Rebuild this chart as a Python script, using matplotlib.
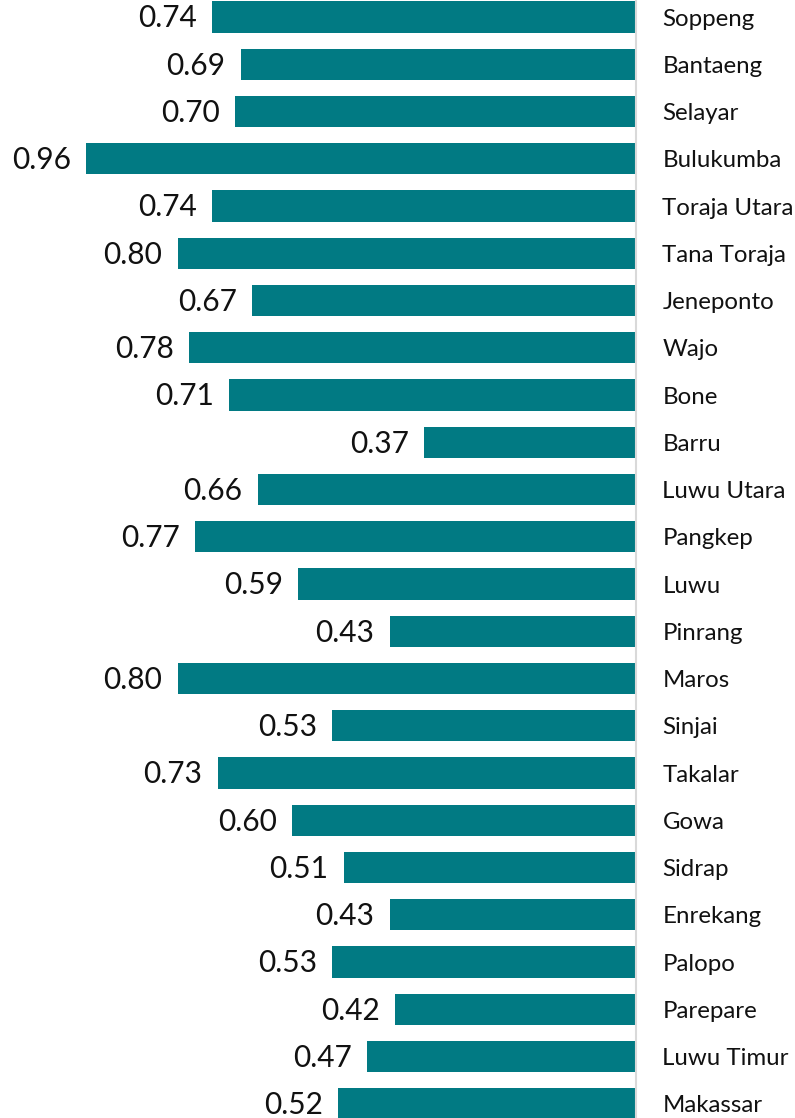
import matplotlib
matplotlib.use("Agg")
import matplotlib.pyplot as plt

regions = ["Soppeng", "Bantaeng", "Selayar", "Bulukumba", "Toraja Utara", "Tana Toraja",
           "Jeneponto", "Wajo", "Bone", "Barru", "Luwu Utara", "Pangkep", "Luwu",
           "Pinrang", "Maros", "Sinjai", "Takalar", "Gowa", "Sidrap", "Enrekang",
           "Palopo", "Parepare", "Luwu Timur", "Makassar"]
values = [0.74, 0.69, 0.70, 0.96, 0.74, 0.80, 0.67, 0.78, 0.71, 0.37, 0.66, 0.77, 0.59,
          0.43, 0.80, 0.53, 0.73, 0.60, 0.51, 0.43, 0.53, 0.42, 0.47, 0.52]

W, H = 795, 1118
fig = plt.figure(figsize=(W / 100, H / 100), dpi=100)
ax = fig.add_axes([0, 0, 636 / W, 1])

bar_color = "#017A83"
pos = list(range(len(regions)))
ax.barh(pos, values, height=0.66, color=bar_color)

ax.set_xlim(636 / 573, 0)
ax.set_ylim(23.3, -0.36)

for p, v, name in zip(pos, values, regions):
    ax.annotate(f"{v:.2f}", xy=(v, p), xytext=(-11, -1), textcoords="offset points",
                ha="right", va="center", fontsize=21.5, family="Lato", color="#111111")
    ax.annotate(name, xy=(0, p), xytext=(19, -1.5), textcoords="offset points",
                ha="left", va="center", fontsize=17.3, family="Lato", color="#111111",
                annotation_clip=False)

for s in ["top", "left", "bottom"]:
    ax.spines[s].set_visible(False)
ax.spines["right"].set_color("#d9d9d9")
ax.spines["right"].set_linewidth(1.5)
ax.set_xticks([])
ax.set_yticks([])
ax.patch.set_alpha(0)

fig.savefig("out.png", dpi=100)
